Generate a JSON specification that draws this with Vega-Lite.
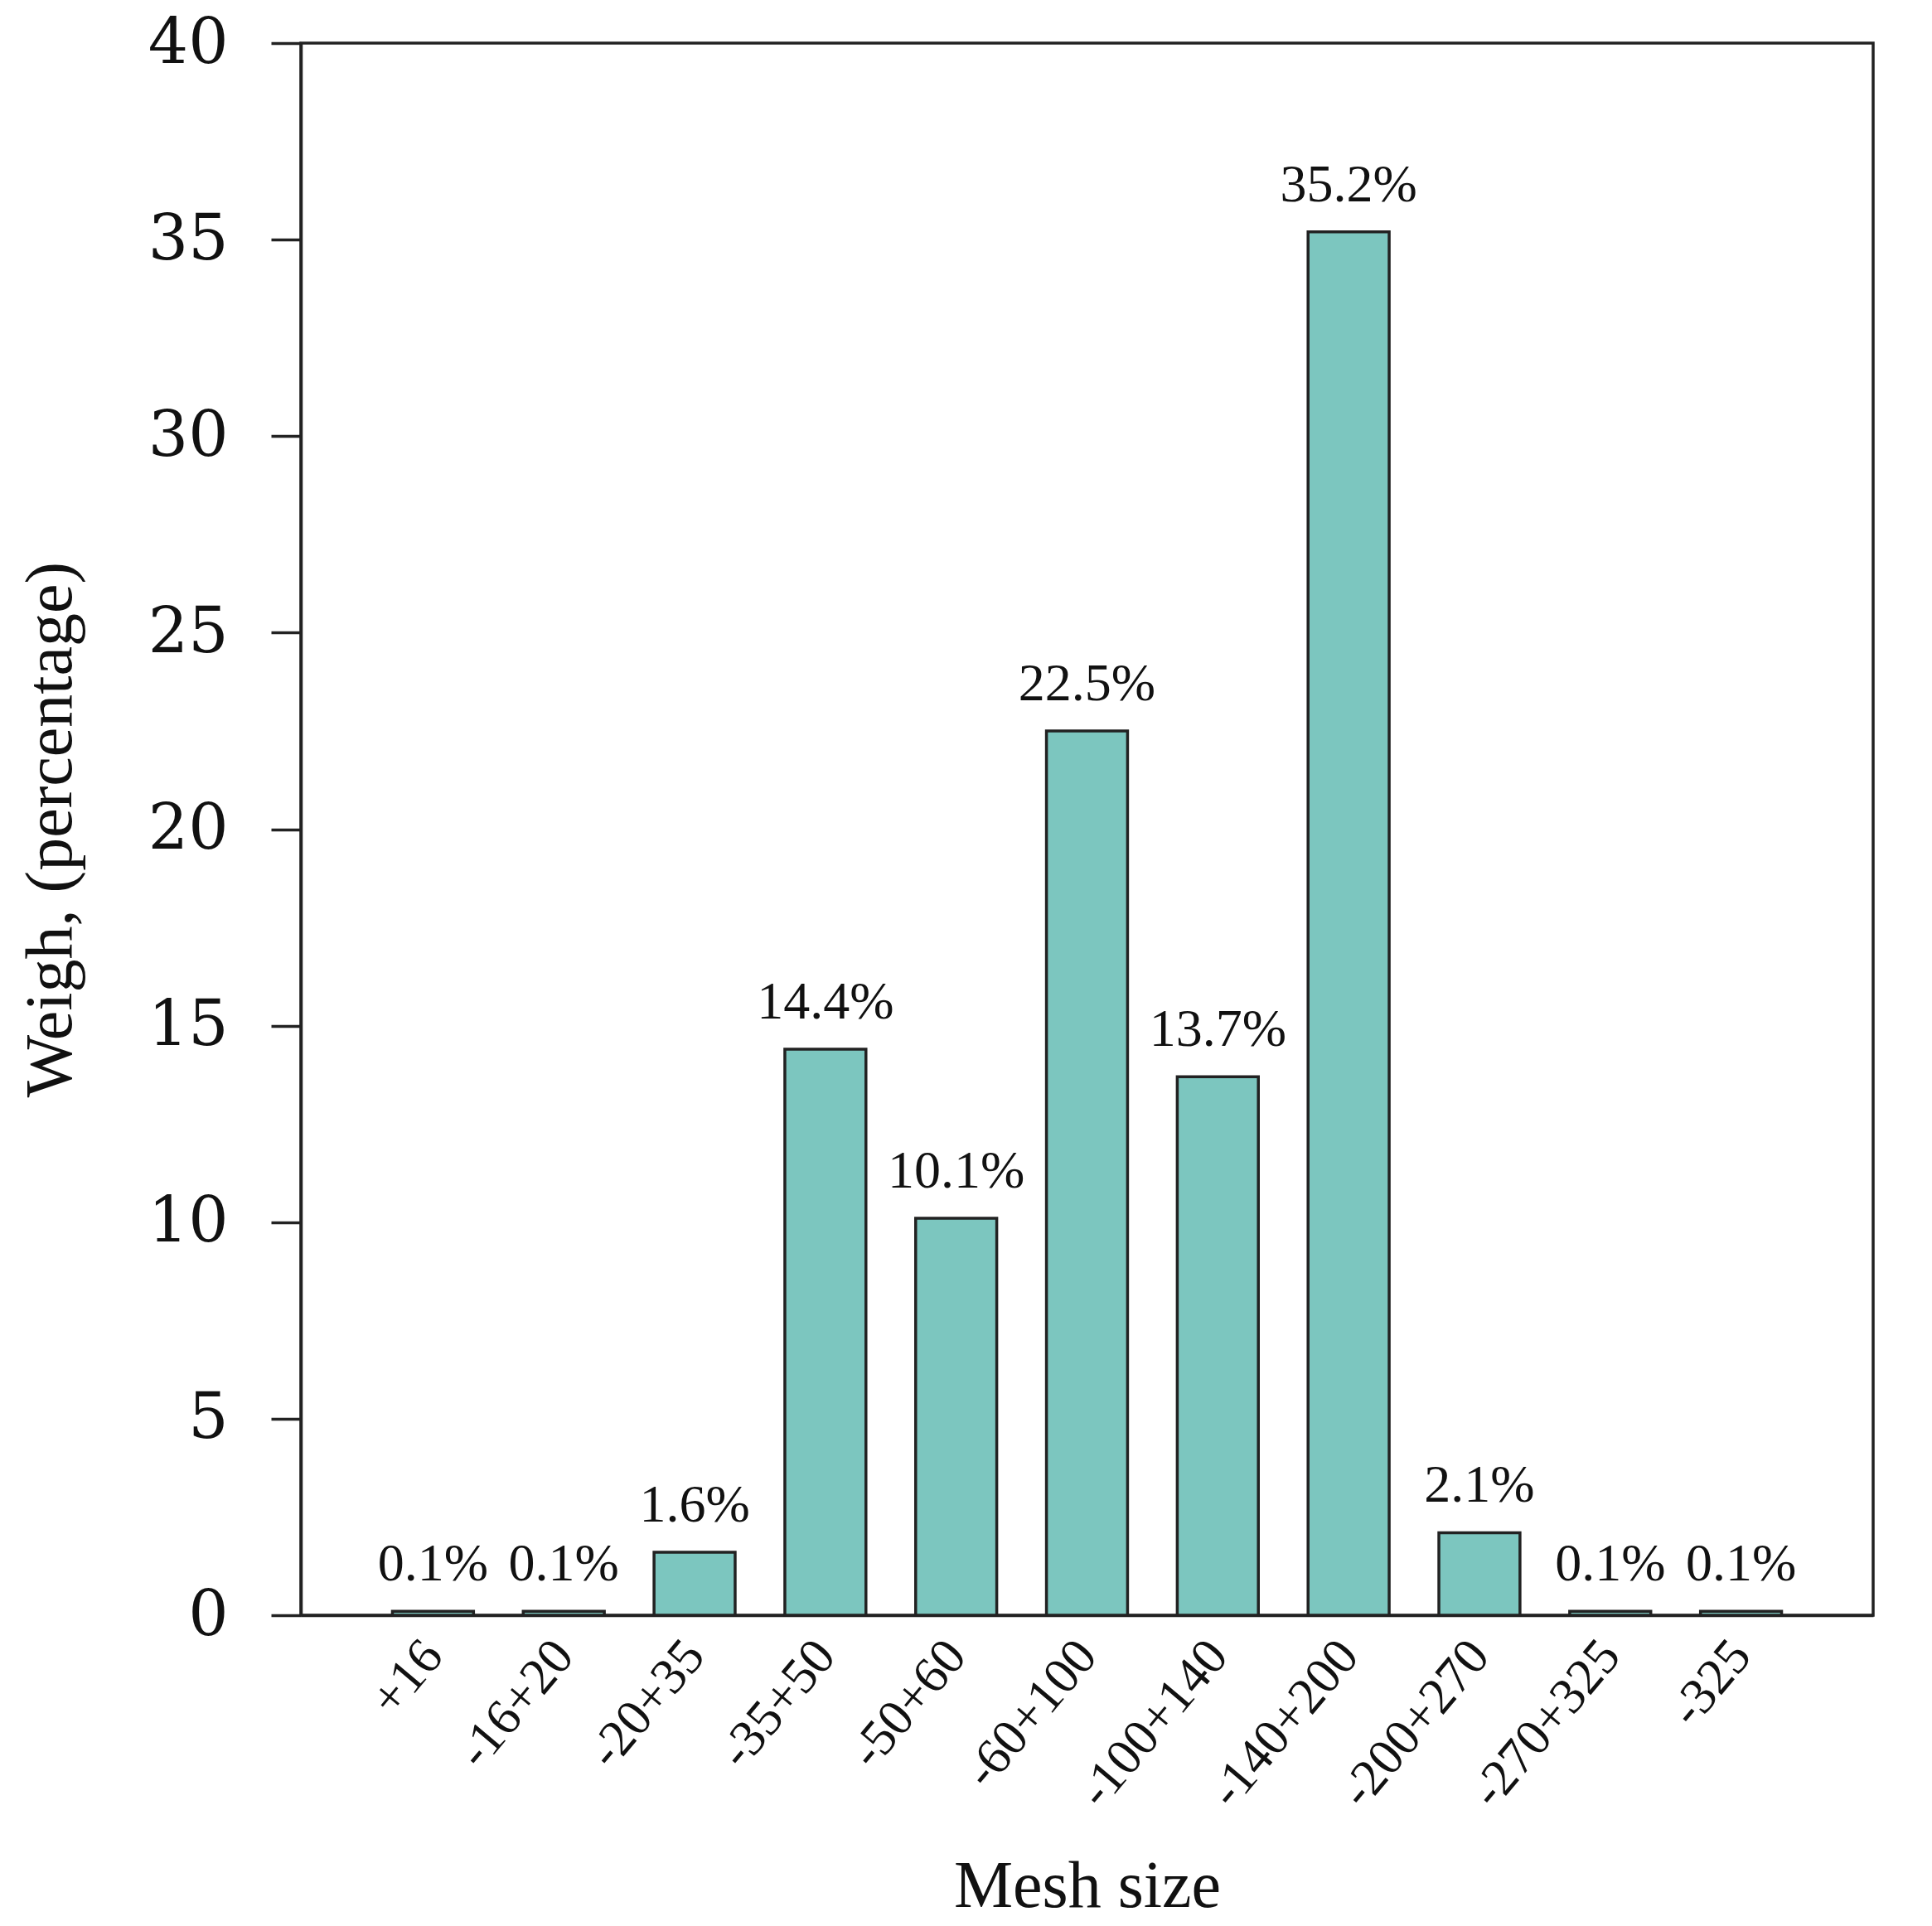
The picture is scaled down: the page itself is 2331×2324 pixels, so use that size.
{
  "$schema": "https://vega.github.io/schema/vega-lite/v6.json",
  "autosize": {"type": "none"},
  "width": 1897,
  "height": 1897,
  "padding": {"left": 363, "top": 52, "right": 71, "bottom": 375},
  "background": "white",
  "config": {
    "view": {"stroke": "#222222", "strokeWidth": 3.5},
    "axis": {"grid": false}
  },
  "data": {
    "values": [
      {"mesh": "+16", "weight": 0.1, "label": "0.1%"},
      {"mesh": "-16+20", "weight": 0.1, "label": "0.1%"},
      {"mesh": "-20+35", "weight": 1.6, "label": "1.6%"},
      {"mesh": "-35+50", "weight": 14.4, "label": "14.4%"},
      {"mesh": "-50+60", "weight": 10.1, "label": "10.1%"},
      {"mesh": "-60+100", "weight": 22.5, "label": "22.5%"},
      {"mesh": "-100+140", "weight": 13.7, "label": "13.7%"},
      {"mesh": "-140+200", "weight": 35.2, "label": "35.2%"},
      {"mesh": "-200+270", "weight": 2.1, "label": "2.1%"},
      {"mesh": "-270+325", "weight": 0.1, "label": "0.1%"},
      {"mesh": "-325", "weight": 0.1, "label": "0.1%"}
    ]
  },
  "encoding": {
    "x": {
      "field": "mesh",
      "type": "nominal",
      "sort": null,
      "scale": {"paddingInner": 0.38, "paddingOuter": 0.7},
      "axis": {
        "title": "Mesh size",
        "titleFont": "Liberation Serif",
        "titleFontSize": 80,
        "titleFontWeight": "normal",
        "titleColor": "#111111",
        "titlePadding": 88,
        "labelFont": "Liberation Serif",
        "labelFontSize": 62,
        "labelColor": "#111111",
        "labelAngle": -50,
        "labelAlign": "right",
        "labelBaseline": "middle",
        "labelPadding": 38,
        "labelLimit": 0,
        "ticks": false,
        "domainColor": "#222222",
        "domainWidth": 3.5
      }
    },
    "y": {
      "field": "weight",
      "type": "quantitative",
      "scale": {"domain": [0, 40], "nice": false},
      "axis": {
        "title": "Weigh, (percentage)",
        "titleFont": "Liberation Serif",
        "titleFontSize": 80,
        "titleFontWeight": "normal",
        "titleColor": "#111111",
        "titlePadding": 76,
        "values": [0, 5, 10, 15, 20, 25, 30, 35, 40],
        "labelFont": "DejaVu Serif",
        "labelFontSize": 76,
        "labelColor": "#111111",
        "labelPadding": 52,
        "tickSize": 36,
        "tickWidth": 3.5,
        "tickColor": "#222222",
        "domainColor": "#222222",
        "domainWidth": 3.5
      }
    }
  },
  "layer": [
    {
      "mark": {"type": "bar", "fill": "#7CC6BF", "stroke": "#222222", "strokeWidth": 3.5}
    },
    {
      "mark": {"type": "text", "baseline": "bottom", "dy": -24, "font": "Liberation Serif", "fontSize": 64, "color": "#111111"},
      "encoding": {"text": {"field": "label"}}
    }
  ]
}
